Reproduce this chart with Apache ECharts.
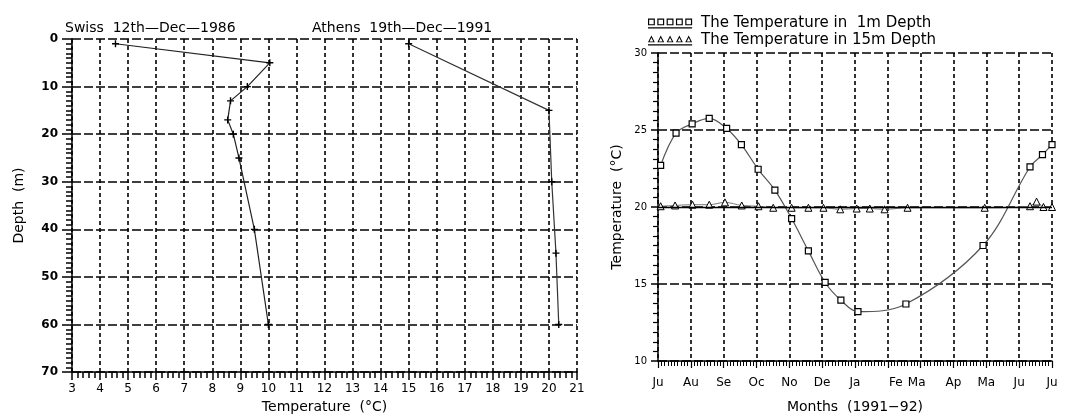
<!DOCTYPE html>
<html>
<head>
<meta charset="utf-8">
<script src="https://cdn.jsdelivr.net/npm/echarts@6/dist/echarts.min.js"></script>
<style>
  html, body { margin: 0; padding: 0; background: #fff; }
  #main { width: 1066px; height: 419px; }
</style>
</head>
<body>
<div id="main"></div>
<script>
// left panel: temperature profiles (depth in m)
const swissTemp = [4.55, 10.05, 9.25, 8.65, 8.55, 8.75, 8.95, 9.5, 10.0];
const swissDepth = [1, 5, 10, 13, 17, 20, 25, 40, 60];
const athensTemp = [15.0, 20.0, 20.1, 20.25, 20.35];
const athensDepth = [1, 15, 30, 45, 60];

// right panel: month position (0 = Jul 1991) and temperature
const monthLabels = ['Ju', 'Au', 'Se', 'Oc', 'No', 'De', 'Ja', 'Fe', 'Ma', 'Ap', 'Ma', 'Ju', 'Ju'];
const month1m = [0.08, 0.55, 1.04, 1.56, 2.09, 2.54, 3.05, 3.56, 4.07, 4.58, 5.09, 5.57, 6.09, 7.55, 9.9, 11.33, 11.71, 12.0];
const temp1m = [22.7, 24.8, 25.4, 25.75, 25.1, 24.05, 22.45, 21.1, 19.25, 17.15, 15.1, 13.95, 13.2, 13.7, 17.5, 22.6, 23.4, 24.05];
const month15m = [0.08, 0.52, 1.05, 1.56, 2.04, 2.55, 3.06, 3.51, 4.07, 4.58, 5.04, 5.55, 6.05, 6.45, 6.9, 7.6, 9.95, 11.33, 11.53, 11.74, 12.0];
const temp15m = [20.05, 20.1, 20.15, 20.15, 20.3, 20.1, 20.05, 19.95, 19.95, 19.95, 19.95, 19.85, 19.9, 19.9, 19.85, 19.95, 19.95, 20.05, 20.35, 20.0, 20.0];

const zip = (a, b) => a.map((v, i) => [v, b[i]]);

const FONT = 'DejaVu Sans';
const vDash = { color: '#000', width: 1.6, type: [4, 3] };
const hDash = { color: '#000', width: 1.6, type: [9, 3] };

// legend icons: five hollow squares / triangles over an underline
let sqIcon = 'path://';
let triIcon = 'path://';
for (let i = 0; i < 5; i++) {
  const x = i * 9.5;
  sqIcon += `M${x},0h7v7h-7zM${x + 1.2},1.2v4.6h4.6v-4.6z`;
  triIcon += `M${x},7L${x + 3.5},0L${x + 7},7zM${x + 1.6},6L${x + 5.4},6L${x + 3.5},2.2z`;
}
sqIcon += 'M0,9h45v1.2h-45z';
triIcon += 'M0,9h45v1.2h-45z';

const plus = 'path://M2,0h1v2h2v1h-2v2h-1v-2h-2v-1h2z';

let chart = echarts.init(document.getElementById('main'));

let option = {
  backgroundColor: '#fff',
  animation: false,
  textStyle: { fontFamily: FONT, color: '#000' },
  title: [
    { text: 'Swiss  12th—Dec—1986', left: 60, top: 16, textStyle: { fontFamily: FONT, fontSize: 14, fontWeight: 'normal', color: '#000' } },
    { text: 'Athens  19th—Dec—1991', left: 307, top: 16, textStyle: { fontFamily: FONT, fontSize: 14, fontWeight: 'normal', color: '#000' } }
  ],
  legend: {
    orient: 'vertical',
    left: 643,
    top: 11,
    itemWidth: 48,
    itemHeight: 10,
    itemGap: 2,
    textStyle: { fontFamily: FONT, fontSize: 15, color: '#000', padding: [0, 0, 0, 2] },
    data: [
      { name: 'The Temperature in  1m Depth', icon: sqIcon, itemStyle: { color: '#000', borderWidth: 0 } },
      { name: 'The Temperature in 15m Depth', icon: triIcon, itemStyle: { color: '#000', borderWidth: 0 } }
    ],
    selectedMode: false
  },
  grid: [
    { left: 72, top: 39, width: 505, height: 344 },
    { left: 658, top: 53, width: 394, height: 315 }
  ],
  xAxis: [
    {
      gridIndex: 0, type: 'value', min: 3, max: 21, interval: 1,
      name: 'Temperature  (°C)', nameLocation: 'middle', nameGap: 24,
      nameTextStyle: { fontFamily: FONT, fontSize: 14, color: '#000' },
      axisLine: { onZero: false, lineStyle: { color: '#000', width: 1.5 } },
      axisTick: { show: true, length: 8, lineStyle: { color: '#000', width: 1.5 } },
      minorTick: { show: true, splitNumber: 5, length: 6, lineStyle: { color: '#000', width: 1.5 } },
      axisLabel: { fontFamily: FONT, fontSize: 12, color: '#000', margin: 11 },
      splitLine: { show: true, lineStyle: vDash }
    },
    {
      gridIndex: 1, type: 'value', min: 0, max: 12, interval: 1,
      name: 'Months  (1991−92)', nameLocation: 'middle', nameGap: 39,
      nameTextStyle: { fontFamily: FONT, fontSize: 14, color: '#000' },
      axisLine: { onZero: false, lineStyle: { color: '#000', width: 1.5 } },
      axisTick: { show: true, length: 7, lineStyle: { color: '#000', width: 1.2 } },
      minorTick: { show: true, splitNumber: 10, length: 5, lineStyle: { color: '#000', width: 1 } },
      axisLabel: {
        fontFamily: FONT, fontSize: 12, color: '#000', margin: 16,
        formatter: v => {
          const s = monthLabels[v];
          if (v === 7) return '{fe|' + s + '}';
          if (v === 8) return '{ma|' + s + '}';
          return s;
        },
        rich: {
          fe: { fontFamily: FONT, fontSize: 12, color: '#000', padding: [0, 0, 0, 16] },
          ma: { fontFamily: FONT, fontSize: 12, color: '#000', padding: [0, 8, 0, 0] }
        }
      },
      splitLine: { show: true, lineStyle: vDash }
    }
  ],
  yAxis: [
    {
      gridIndex: 0, type: 'value', min: 0, max: 70, interval: 10, inverse: true,
      name: 'Depth  (m)', nameLocation: 'middle', nameGap: 46, nameRotate: 90,
      nameTextStyle: { fontFamily: FONT, fontSize: 14, color: '#000' },
      axisLine: { onZero: false, lineStyle: { color: '#000', width: 1.5 } },
      axisTick: { show: true, length: 10, lineStyle: { color: '#000', width: 1.5 } },
      minorTick: { show: true, splitNumber: 10, length: 6, lineStyle: { color: '#000', width: 1.5 } },
      axisLabel: { fontFamily: FONT, fontSize: 12, fontWeight: 'bold', color: '#000', margin: 14 },
      splitLine: { show: true, lineStyle: hDash }
    },
    {
      gridIndex: 1, type: 'value', min: 10, max: 30, interval: 5,
      name: 'Temperature  (°C)', nameLocation: 'middle', nameGap: 34, nameRotate: 90,
      nameTextStyle: { fontFamily: FONT, fontSize: 14, color: '#000' },
      axisLine: { onZero: false, lineStyle: { color: '#000', width: 1.5 } },
      axisTick: { show: true, length: 7, lineStyle: { color: '#000', width: 1.5 } },
      minorTick: { show: true, splitNumber: 8, length: 5, lineStyle: { color: '#000', width: 1.2 } },
      axisLabel: { fontFamily: FONT, fontSize: 10, color: '#000', margin: 11 },
      splitLine: { show: true, lineStyle: hDash }
    }
  ],
  series: [
    {
      name: 'Swiss', type: 'line', xAxisIndex: 0, yAxisIndex: 0,
      data: zip(swissTemp, swissDepth),
      symbol: plus, symbolSize: 7,
      itemStyle: { color: '#000' },
      lineStyle: { color: '#222', width: 1.2 }
    },
    {
      name: 'Athens', type: 'line', xAxisIndex: 0, yAxisIndex: 0,
      data: zip(athensTemp, athensDepth),
      symbol: plus, symbolSize: 7,
      itemStyle: { color: '#000' },
      lineStyle: { color: '#333', width: 1.2 }
    },
    {
      name: 'The Temperature in  1m Depth', type: 'line', xAxisIndex: 1, yAxisIndex: 1,
      data: zip(month1m, temp1m),
      smooth: 0.35,
      symbol: 'rect', symbolSize: 6,
      itemStyle: { color: '#fff', borderColor: '#000', borderWidth: 1.2 },
      lineStyle: { color: '#555', width: 1.2 },
      z: 4
    },
    {
      name: 'The Temperature in 15m Depth', type: 'line', xAxisIndex: 1, yAxisIndex: 1,
      data: zip(month15m, temp15m),
      smooth: 0.35,
      symbol: 'triangle', symbolSize: 7,
      itemStyle: { color: '#fff', borderColor: '#000', borderWidth: 1 },
      lineStyle: { color: '#777', width: 1 },
      z: 3,
      markLine: {
        silent: true, symbol: 'none', label: { show: false },
        lineStyle: { color: '#000', type: 'solid', width: 1.3 },
        data: [{ yAxis: 20 }]
      }
    }
  ]
};

chart.setOption(option);
</script>
</body>
</html>
